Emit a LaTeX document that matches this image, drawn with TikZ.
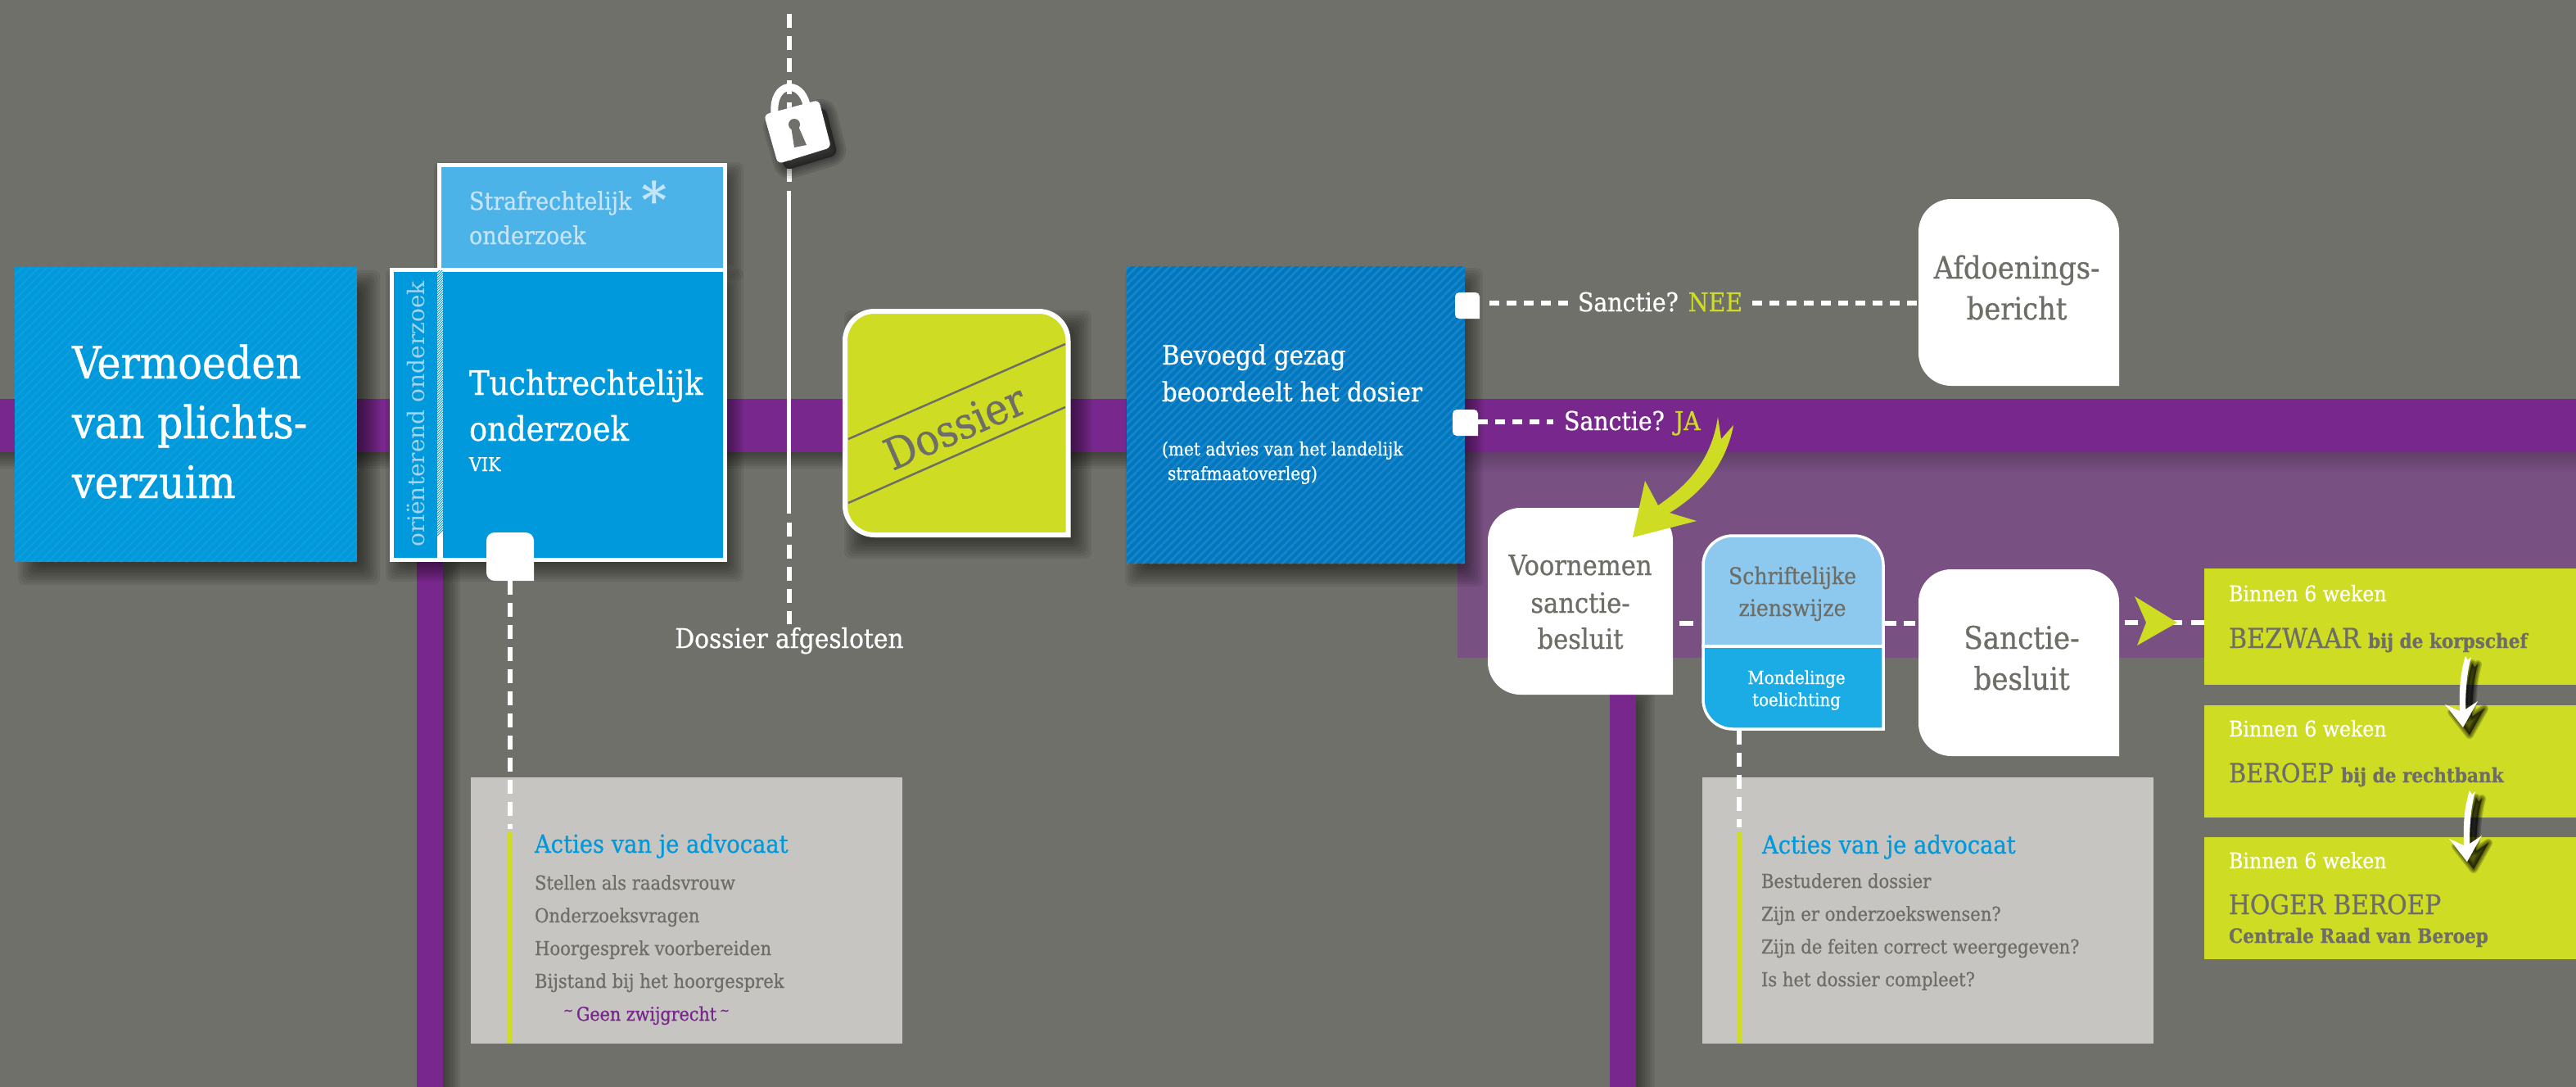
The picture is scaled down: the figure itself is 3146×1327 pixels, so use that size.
\documentclass[tikz,border=0pt]{standalone}
\usepackage{fontspec}
\setmainfont{DejaVu Serif Condensed}[RawFeature={embolden=0.7}]
\newfontfamily\widefont{DejaVu Serif}
\usetikzlibrary{calc}
\definecolor{bgc}{HTML}{70706A}
\definecolor{purp}{HTML}{78288C}
\definecolor{lilac}{HTML}{785082}
\definecolor{limec}{HTML}{CEDC23}
\definecolor{blueA}{HTML}{0099DC}
\definecolor{blueB}{HTML}{4BB3E8}
\definecolor{blueC}{HTML}{0078C1}
\definecolor{blueD}{HTML}{8DC9EF}
\definecolor{blueE}{HTML}{1BACE5}
\definecolor{greyt}{HTML}{6E6E67}
\definecolor{greyb}{HTML}{C6C5C1}
\newcommand{\softshadow}[4]{%
  \foreach \s in {12,9,6,3,0,-3,-6,-9,-12}{%
    \fill[black,opacity=0.065,rounded corners=8pt] (#1-\s,#2-\s) rectangle (#3+\s,#4+\s);}}
\newcommand{\stripes}[6]{%
  \begin{scope}
    \clip (#1,#2) rectangle (#3,#4);
    \foreach \n in {0,...,120}{\draw[#5] (#1-400+#6*\n,#4+10) -- (#1+100+#6*\n,#4-490);}
  \end{scope}}
\newcommand{\rpath}[5]{(#1,#2+#5) arc[start angle=180,end angle=270,radius=#5] -- (#3-#5,#2) arc[start angle=270,end angle=360,radius=#5] -- (#3,#4) -- (#1+#5,#4) arc[start angle=90,end angle=180,radius=#5] -- cycle}
\newcommand{\fs}[1]{\fontsize{#1}{#1}\selectfont}
\tikzset{
  tb/.style={inner sep=0pt,outer sep=0pt,anchor=base west,align=left},
  cb/.style={inner sep=0pt,outer sep=0pt,anchor=base},
  whitedash/.style={draw=white,line width=6pt,dash pattern=on 17pt off 10pt},
  shortdash/.style={draw=white,line width=6pt,dash pattern=on 12pt off 9pt},
  gt/.style={text=greyt},
  wt/.style={text=white}
}
\begin{document}
\begin{tikzpicture}[x=1pt,y=-1pt]
\useasboundingbox (0,0) rectangle (3146,1327);
\fill[bgc] (0,0) rectangle (3146,1327);
% lilac area
\fill[lilac] (1780,552) rectangle (3146,803);
\foreach \i in {1,...,8}{\fill[black,opacity=0.02] (1780,552) rectangle (3146,552+3*\i);}
% band shadow
\softshadow{-30}{505}{1380}{560}
% purple band
\fill[purp] (0,487) rectangle (3146,552);
% vertical purple
\softshadow{525}{690}{550}{1345}
\softshadow{1980}{848}{2009}{1345}
\fill[purp] (509,686) rectangle (541,1327);
\fill[purp] (1966,840) rectangle (1998,1327);
% shadows
\softshadow{34}{342}{452}{702}
\softshadow{483}{340}{896}{698}
\softshadow{542}{210}{896}{330}
\softshadow{1043}{391}{1321}{670}
\softshadow{1386}{339}{1799}{704}
% Vermoeden
\fill[blueA] (18,326) rectangle (436,686);
\stripes{18}{326}{436}{686}{white,opacity=.05,line width=2pt}{10}
\node[tb,wt,font=\fs{54.5}] (verm1) at (88,462) {Vermoeden};
\node[tb,wt,font=\fs{54.5}] (verm2) at (88,535) {van plichts-};
\node[tb,wt,font=\fs{54.5}] (verm3) at (88,608) {verzuim};
% Straf
\fill[blueB,draw=white,line width=5pt] (536.5,201.5) rectangle (885.5,330);
\node[tb,text=blueD!50!white,font=\fs{30}] (straf1) at (573,256) {Strafrechtelijk};
\node[tb,text=blueD!50!white,font=\fs{30}] (straf2) at (573,298) {onderzoek};
\node[text=blueD!50!white,font=\widefont\bfseries\fs{60},inner sep=0pt] (ast) at (799,243) {*};
% Tucht
\fill[blueA,draw=white,line width=5pt] (478.5,329.5) rectangle (885.5,683.5);
\fill[white] (534,330) rectangle (541,684);
\stripes{534}{330}{541}{684}{blueA,line width=0.8pt}{3}
\node[rotate=90,anchor=base west,inner sep=0pt,text=blueD!80!white,font=\widefont\fs{28}] (ori) at (518,668) {oriënterend onderzoek};
\node[tb,wt,font=\fs{41}] (t1) at (573,482) {Tuchtrechtelijk};
\node[tb,wt,font=\fs{41}] (t2) at (573,538) {onderzoek};
\node[tb,wt,font=\fs{23}] (t3) at (573,575) {VIK};
% tab 1
\fill[white] \rpath{594}{650}{652}{709}{10};
\coordinate (tabA) at (623,709);
% grey boxes
\fill[greyb] (575,949) rectangle (1102,1274);
\fill[limec] (620,1015) rectangle (626,1274);
\fill[greyb] (2079,949) rectangle (2630,1274);
\fill[limec] (2122,1016) rectangle (2127,1274);
\coordinate (acA) at (623,1012);
\draw[whitedash] (tabA) -- (acA);
% vertical line with lock
\coordinate (lt) at (963.5,17);
\coordinate (lm) at (963.5,222);
\coordinate (sa) at (963.5,233);
\coordinate (sb) at (963.5,627);
\coordinate (da) at (963.5,638);
\coordinate (db) at (963.5,762);
\draw[whitedash] (lt) -- (lm);
\draw[white,line width=5pt] (sa) -- (sb);
\draw[whitedash] (da) -- (db);
\node[cb,wt,font=\fs{33}] (afg) at (964,791) {Dossier afgesloten};
% lock
\foreach \w in {24,18,12,6,1}{\fill[black,opacity=.10,draw=black,line width=\w pt,rounded corners=8pt,line join=round] (942,149) -- (1008,131) -- (1023,189) -- (959,208) -- cycle;}
\draw[white,line width=9pt] (946,138) .. controls (943,100) and (978,96) .. (985,128);
\fill[white,rounded corners=6pt] (933,140) -- (1000,122) -- (1015,180) -- (950,200) -- cycle;
\fill[bgc] (970,152) circle (7);
\fill[bgc] (966,154) -- (974,152) -- (985,177) -- (970,180) -- cycle;
% Dossier
\path[fill=limec,draw=white,line width=6pt] \rpath{1032}{380}{1304.5}{653}{36};
\begin{scope}
  \clip \rpath{1035}{383}{1301.5}{650}{33};
  \draw[greyt,line width=2.5pt] (1036,536) -- (1301,420);
  \draw[greyt,line width=2.5pt] (1036,614) -- (1301,497);
\end{scope}
\node[rotate=23.6,text=greyt,font=\fs{53},inner sep=0pt] (dos) at (1166,521) {Dossier};
% Bevoegd
\fill[blueC] (1376,325) rectangle (1789,688);
\stripes{1376}{325}{1789}{688}{white,opacity=.10,line width=2.5pt}{10}
\node[tb,wt,font=\fs{32.5}] (b1) at (1419,445) {Bevoegd gezag};
\node[tb,wt,font=\fs{32.5}] (b2) at (1419,490) {beoordeelt het dosier};
\node[tb,wt,font=\fs{22.4}] (b3) at (1419,556) {(met advies van het landelijk};
\node[tb,wt,font=\fs{22.4}] (b4) at (1426,586) {strafmaatoverleg)};
% tabs
\fill[white] \rpath{1777}{357}{1807}{389}{5};
\fill[white] \rpath{1774}{500}{1805}{532}{5};
\coordinate (tabN) at (1807,370);
\coordinate (tabJ) at (1805,515);
% Afdoenings
\fill[white] \rpath{2343}{243}{2588}{471}{40};
\node[cb,gt,font=\fs{37.5}] (af1) at (2463,340) {Afdoenings-};
\node[cb,gt,font=\fs{37.5}] (af2) at (2463,390) {bericht};
% sanctie labels
\node[tb,wt,font=\fs{31.5}] (nee) at (1927,380) {Sanctie? \textcolor{limec}{NEE}};
\node[tb,wt,font=\fs{31.5}] (ja) at (1910,525) {Sanctie? \textcolor{limec}{JA}};
\coordinate (neeA) at (1819,370);
\coordinate (neeB) at (1915,370);
\coordinate (neeC) at (2140,370);
\coordinate (neeD) at (2343,370);
\coordinate (jaB) at (1897,515);
\draw[shortdash] (neeA) -- (neeB);
\draw[shortdash] (neeC) -- (neeD);
\draw[shortdash] (tabJ) -- (jaB);
% Voornemen
\fill[white] \rpath{1817}{620}{2043}{848}{40};
\node[cb,gt,font=\fs{34}] (v1) at (1930,702) {Voornemen};
\node[cb,gt,font=\fs{34}] (v2) at (1930,748) {sanctie-};
\node[cb,gt,font=\fs{34}] (v3) at (1930,792) {besluit};
% lime arrow
\fill[limec] (1994,656) -- (2009,587) -- (2025,617) .. controls (2060,593) and (2090,563) .. (2098,509) -- (2102,536) -- (2117,519) .. controls (2110,557) and (2087,597) .. (2039,626) -- (2072,636) -- cycle;
% Schriftelijke
\draw[whitedash] (2051,761) -- (2078,761);
\path[fill=blueD,draw=white,line width=3.5pt] (2080,789) -- (2080,690) arc[start angle=180,end angle=270,radius=36] -- (2264,654) arc[start angle=270,end angle=360,radius=36] -- (2300,789) -- cycle;
\path[fill=blueE,draw=white,line width=3.5pt] (2080,789) -- (2300,789) -- (2300,890) -- (2116,890) arc[start angle=90,end angle=180,radius=36] -- cycle;
\node[cb,gt,font=\fs{28}] (s1) at (2189,713) {Schriftelijke};
\node[cb,gt,font=\fs{28}] (s2) at (2189,752) {zienswijze};
\node[cb,wt,font=\fs{22}] (m1) at (2194,835) {Mondelinge};
\node[cb,wt,font=\fs{22}] (m2) at (2194,862) {toelichting};
\draw[whitedash,dash pattern=on 14pt off 9pt] (2302,761) -- (2343,761);
\draw[whitedash] (2124,892) -- (2124,1010);
% Sanctiebesluit
\fill[white] \rpath{2343}{695}{2588}{923}{40};
\node[cb,gt,font=\fs{38}] (sb1) at (2469,792) {Sanctie-};
\node[cb,gt,font=\fs{38}] (sb2) at (2469,842) {besluit};
% lime boxes
\fill[limec] (2692,694) rectangle (3146,836);
\fill[limec] (2692,861) rectangle (3146,998);
\fill[limec] (2692,1022) rectangle (3146,1171);
\draw[whitedash,dash pattern=on 16pt off 11pt] (2595,760) -- (2692,760);
\fill[limec] (2607,728) -- (2659,760) -- (2610,788) -- (2621,760) -- cycle;
\node[tb,wt,font=\fs{26.3}] (l1) at (2722,734) {Binnen 6 weken};
\node[tb,gt,font=\fs{33.5}] (l2) at (2722,791) {BEZWAAR};
\node[tb,gt,font=\bfseries\fs{24}] (l3) at (2892,791) {bij de korpschef};
\node[tb,wt,font=\fs{26.3}] (l4) at (2722,899) {Binnen 6 weken};
\node[tb,gt,font=\fs{32}] (l5) at (2722,955) {BEROEP};
\node[tb,gt,font=\bfseries\fs{24}] (l6) at (2859,955) {bij de rechtbank};
\node[tb,wt,font=\fs{26.3}] (l7) at (2722,1060) {Binnen 6 weken};
\node[tb,gt,font=\fs{33}] (l8) at (2722,1116) {HOGER BEROEP};
\node[tb,gt,font=\bfseries\fs{24}] (l9) at (2722,1151) {Centrale Raad van Beroep};
% white arrows
\newcommand{\warrowpath}{(3011,801) .. controls (3005,820) and (3003,840) .. (3004,868) -- (2986,860) -- (3008,888) -- (3026,856) -- (3011,866) .. controls (3011,840) and (3013,820) .. (3018,802) -- (3014,806) -- cycle}
\newcommand{\warrow}[1]{%
\begin{scope}[shift={#1}]
 \begin{scope}[shift={(8,9)}]
  \foreach \w in {10,7,4,1}{\fill[black,opacity=.2,draw=black,line width=\w pt,line join=round] \warrowpath;}
 \end{scope}
 \fill[white] \warrowpath;
\end{scope}}
\warrow{(0,0)}
\warrow{(5,164)}
% grey box texts
\node[tb,text=blueA,font=\fs{30.4}] (a1) at (653,1041) {Acties van je advocaat};
\node[tb,gt,font=\fs{23.5}] (a2) at (653,1086) {Stellen als raadsvrouw};
\node[tb,gt,font=\fs{23.5}] (a3) at (653,1126) {Onderzoeksvragen};
\node[tb,gt,font=\fs{23.5}] (a4) at (653,1166) {Hoorgesprek voorbereiden};
\node[tb,gt,font=\fs{23.5}] (a5) at (653,1206) {Bijstand bij het hoorgesprek};
\node[tb,text=purp,font=\fs{23}] (a6) at (688,1246) {\raisebox{7pt}{\fs{16}\textasciitilde}\,Geen zwijgrecht\,\raisebox{7pt}{\fs{16}\textasciitilde}};
\node[tb,text=blueA,font=\fs{30.4}] (c1) at (2152,1042) {Acties van je advocaat};
\node[tb,gt,font=\fs{23.5}] (c2) at (2151,1084) {Bestuderen dossier};
\node[tb,gt,font=\fs{23.5}] (c3) at (2151,1124) {Zijn er onderzoekswensen?};
\node[tb,gt,font=\fs{23.5}] (c4) at (2151,1164) {Zijn de feiten correct weergegeven?};
\node[tb,gt,font=\fs{23.5}] (c5) at (2151,1204) {Is het dossier compleet?};
\end{tikzpicture}
\end{document}
